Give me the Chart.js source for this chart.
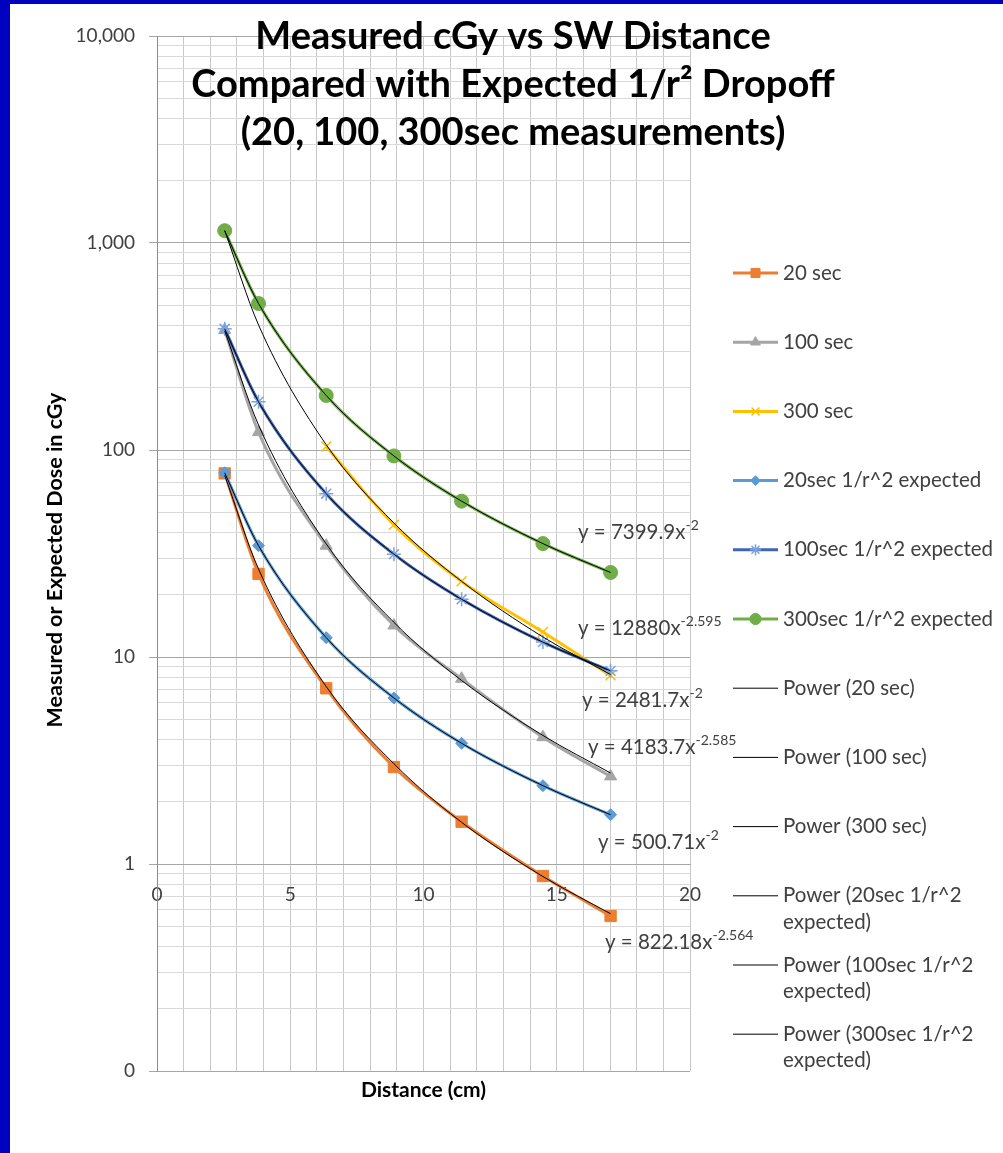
<!DOCTYPE html>
<html>
<head>
<meta charset="utf-8">
<script src="https://cdn.jsdelivr.net/npm/chart.js@4.4.1/dist/chart.umd.min.js"></script>
<style>
  html, body { margin: 0; padding: 0; background: #fff; }
</style>
</head>
<body>
<canvas id="doseChart" width="1003" height="1153"></canvas>
<script>
// distances in cm (1, 1.5, 2.5, 3.5, 4.5, 5.7, 6.7 in)
const DISTANCES = [2.54, 3.81, 6.35, 8.89, 11.43, 14.48, 17.02];

// measured dose, cGy
const SEC_20 = [77.1, 25.2, 7.06, 2.94, 1.6, 0.875, 0.561];
const SEC_100 = [380, 122, 34.5, 14.2, 7.85, 4.1, 2.65];
const SEC_300 = [1150, null, 104, 43.5, 23.2, 13.2, 8.15];

// expected 1/r^2 dose, cGy
const EXP_20 = [77.6, 34.5, 12.4, 6.34, 3.83, 2.39, 1.73];
const EXP_100 = [385, 171, 61.5, 31.4, 19.0, 11.8, 8.57];
const EXP_300 = [1147, 510, 183.5, 93.6, 56.6, 35.3, 25.6];

// power trendlines at the same distances
const FIT_20 = [75.5, 26.6, 7.2, 3.05, 1.59, 0.87, 0.575];
const FIT_100 = [376, 132, 35.2, 14.7, 7.7, 4.18, 2.75];
const FIT_300 = [1147, 402, 106, 44.4, 23.2, 12.5, 8.23];
const FIT_EXP_20 = [77.6, 34.5, 12.4, 6.34, 3.83, 2.39, 1.73];
const FIT_EXP_100 = [385, 171, 61.5, 31.4, 19.0, 11.8, 8.57];
const FIT_EXP_300 = [1147, 510, 183.5, 93.6, 56.6, 35.3, 25.6];

const X_LABELS = [0, 5, 10, 15, 20];
const Y_DECADES = [0.1, 1, 10, 100, 1000, 10000];

const EQUATIONS = [
    ['y = 7399.9x', '-2'],
    ['y = 12880x', '-2.595'],
    ['y = 2481.7x', '-2'],
    ['y = 4183.7x', '-2.585'],
    ['y = 500.71x', '-2'],
    ['y = 822.18x', '-2.564']
];
// where the equation boxes sit (left, middle), px
const EQ_POS = [[578, 532], [578, 628], [582, 700], [588, 747], [598, 842], [605, 942]];

const FONT = 'Lato, "Open Sans", sans-serif';
const TEXT = '#404040';

const pts = (vals) => vals.map((v, i) => ({ x: DISTANCES[i], y: v }));
const isDecade = (v) => Y_DECADES.some(d => Math.abs(d - v) < 1e-9);

function series(label, vals, line, marker, style, radius, order) {
    const stroked = style === 'crossRot' || style === 'star';
    return {
        label: label,
        data: pts(vals),
        borderColor: line,
        backgroundColor: line,
        borderWidth: 3,
        pointStyle: style,
        pointRadius: radius,
        pointHoverRadius: radius,
        pointBackgroundColor: marker,
        pointBorderColor: marker,
        pointBorderWidth: stroked ? 1.5 : 1,
        cubicInterpolationMode: 'monotone',
        spanGaps: false,
        order: order
    };
}

function trend(label, vals) {
    return {
        label: label,
        data: pts(vals),
        borderColor: '#000000',
        borderWidth: 1,
        pointRadius: 0,
        cubicInterpolationMode: 'monotone',
        order: 0
    };
}

const datasets = [
    series('20 sec', SEC_20, '#ED7D31', '#ED7D31', 'rect', 8, 6),
    series('100 sec', SEC_100, '#A5A5A5', '#A5A5A5', 'triangle', 7, 5),
    series('300 sec', SEC_300, '#FFC000', '#FFC000', 'crossRot', 7, 4),
    series('20sec 1/r^2 expected', EXP_20, '#5B9BD5', '#5B9BD5', 'rectRot', 6, 3),
    series('100sec 1/r^2 expected', EXP_100, '#3F66B3', '#7AA2DE', 'star', 7, 2),
    series('300sec 1/r^2 expected', EXP_300, '#70AD47', '#70AD47', 'circle', 7, 1),
    trend('Power (20 sec)', FIT_20),
    trend('Power (100 sec)', FIT_100),
    trend('Power (300 sec)', FIT_300),
    trend('Power (20sec 1/r^2 expected)', FIT_EXP_20),
    trend('Power (100sec 1/r^2 expected)', FIT_EXP_100),
    trend('Power (300sec 1/r^2 expected)', FIT_EXP_300)
];

function wrapText(ctx, text, maxWidth) {
    const words = text.split(' ');
    const lines = [];
    let cur = '';
    words.forEach(w => {
        const test = cur ? cur + ' ' + w : w;
        if (cur && ctx.measureText(test).width > maxWidth) {
            lines.push(cur);
            cur = w;
        } else {
            cur = test;
        }
    });
    lines.push(cur);
    return lines;
}

const decorations = {
    id: 'decorations',
    beforeDraw(chart) {
        const ctx = chart.ctx;
        ctx.save();
        ctx.fillStyle = '#ffffff';
        ctx.fillRect(0, 0, chart.width, chart.height);
        ctx.fillStyle = '#0000C0';
        ctx.fillRect(0, 0, 10, chart.height);
        ctx.fillRect(0, 0, chart.width, 4);
        ctx.restore();
    },
    afterDraw(chart) {
        const ctx = chart.ctx;
        const area = chart.chartArea;
        ctx.save();

        // title, overlapping the plot like the original
        ctx.fillStyle = '#000000';
        ctx.textAlign = 'center';
        ctx.textBaseline = 'middle';
        ctx.font = 'bold 38px ' + FONT;
        ctx.fillText('Measured cGy vs SW Distance', 513, 37);
        ctx.fillText('Compared with Expected 1/r\u00B2 Dropoff', 513, 85);
        ctx.fillText('(20, 100, 300sec measurements)', 513, 133);

        // axis titles
        ctx.font = 'bold 21px ' + FONT;
        ctx.fillText('Distance (cm)', (area.left + area.right) / 2, 1090);
        ctx.font = 'bold 21.5px ' + FONT;
        ctx.save();
        ctx.translate(55, 560);
        ctx.rotate(-Math.PI / 2);
        ctx.fillText('Measured or Expected Dose in cGy', 0, 0);
        ctx.restore();

        // trendline equations
        ctx.fillStyle = TEXT;
        ctx.textAlign = 'left';
        EQUATIONS.forEach((eq, i) => {
            const [x, y] = EQ_POS[i];
            ctx.font = '20.5px ' + FONT;
            ctx.fillText(eq[0], x, y);
            const w = ctx.measureText(eq[0]).width;
            ctx.font = '14px ' + FONT;
            ctx.fillText(eq[1], x + w, y - 7);
        });

        // legend
        const top = 273, step = 69.2;
        datasets.forEach((ds, i) => {
            const y = top + i * step;
            ctx.strokeStyle = ds.borderColor;
            ctx.lineWidth = ds.borderWidth;
            ctx.beginPath();
            ctx.moveTo(733, y);
            ctx.lineTo(778, y);
            ctx.stroke();
            if (ds.pointRadius > 0) {
                ctx.fillStyle = ds.pointBackgroundColor;
                ctx.strokeStyle = ds.pointBorderColor;
                ctx.lineWidth = ds.pointBorderWidth;
                Chart.helpers.drawPoint(ctx, {
                    pointStyle: ds.pointStyle,
                    radius: ds.pointRadius * 0.8,
                    rotation: 0,
                    borderWidth: ds.pointBorderWidth
                }, 755.5, y);
            }
            ctx.fillStyle = TEXT;
            ctx.font = '20.5px ' + FONT;
            wrapText(ctx, ds.label, 215).forEach((ln, j) => {
                ctx.fillText(ln, 783, y + j * 26.5);
            });
        });

        ctx.restore();
    }
};

const chart = new Chart(document.getElementById('doseChart'), {
    type: 'line',
    data: { datasets: datasets },
    options: {
        responsive: false,
        animation: false,
        devicePixelRatio: 1,
        layout: { padding: { top: 36, bottom: 82, right: 313, left: 47 } },
        plugins: {
            legend: { display: false },
            title: { display: false },
            tooltip: { enabled: false }
        },
        scales: {
            x: {
                type: 'linear',
                position: { y: 1 },
                min: 0,
                max: 20,
                grid: { color: '#C8C8C8', lineWidth: 1, drawTicks: true, tickLength: 19, tickColor: 'rgba(0,0,0,0)' },
                border: { color: '#A6A6A6' },
                ticks: {
                    stepSize: 1,
                    autoSkip: false,
                    maxRotation: 0,
                    padding: 0,
                    color: TEXT,
                    font: { family: FONT, size: 19 },
                    callback: (v) => X_LABELS.includes(v) ? String(v) : ''
                }
            },
            y: {
                type: 'logarithmic',
                min: 0.1,
                max: 10000,
                afterFit: (scale) => { scale.width = 110; },
                afterBuildTicks: (scale) => {
                    const ticks = [];
                    Y_DECADES.slice(0, -1).forEach(d => {
                        for (let k = 1; k < 10; k++) ticks.push({ value: Number((d * k).toPrecision(3)) });
                    });
                    ticks.push({ value: 10000 });
                    scale.ticks = ticks;
                },
                grid: {
                    color: (c) => isDecade(c.tick.value) ? '#A6A6A6' : '#D9D9D9',
                    tickColor: (c) => isDecade(c.tick.value) ? '#A6A6A6' : 'rgba(0,0,0,0)',
                    tickLength: 8,
                    lineWidth: 1
                },
                border: { color: '#8C8C8C' },
                ticks: {
                    autoSkip: false,
                    padding: 14,
                    color: TEXT,
                    font: { family: FONT, size: 19 },
                    callback: (v) => isDecade(v) ? (v < 1 ? '0' : v.toLocaleString('en-US')) : ''
                }
            }
        }
    },
    plugins: [decorations]
});
</script>
</body>
</html>
